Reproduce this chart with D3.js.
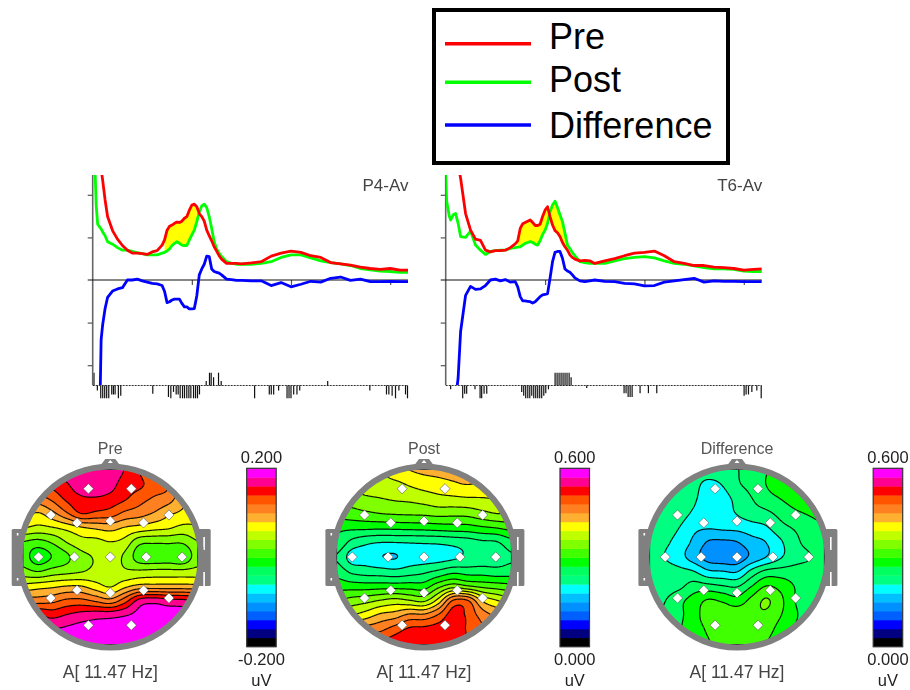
<!DOCTYPE html>
<html>
<head>
<meta charset="utf-8">
<style>
  html, body { margin: 0; padding: 0; background: #fff; }
  svg { display: block; filter: blur(0.35px); }
  text { font-family: "Liberation Sans", Arial, sans-serif; }
</style>
<script src="https://cdn.jsdelivr.net/npm/d3@7"></script>
</head>
<body>
<div id="chart"></div>
<script>
// ── Spectra (Hz against tick units of the y axis) ──
const freqHz = [0, 0.1, 0.25, 0.35, 0.5, 0.75, 0.85, 1, 1.25, 1.5,
    2, 2.5, 3, 3.5, 4, 4.5, 5, 5.5, 6, 6.5, 7,
    7.25, 7.5, 7.75, 8, 8.25, 8.5, 8.75, 9, 9.25, 9.5, 9.75, 10,
    10.25, 10.5, 10.75, 11, 11.25, 11.5, 11.75, 12, 12.25, 12.5, 12.75, 13,
    13.5, 14, 14.5, 15, 16, 17, 18, 19, 20, 21, 22, 23, 24, 25, 26, 27, 28, 29, 30, 31, 31.8];

const p4Pre = [4.2, 4, 3.5, 3.4, 3.2, 2.7, 2.6, 2.35, 1.88, 1.49,
    1.16, 0.96, 0.81, 0.70, 0.63, 0.63, 0.62, 0.60, 0.66, 0.69, 0.82,
    0.94, 1.17, 1.26, 1.29, 1.33, 1.36, 1.35, 1.38, 1.45, 1.49, 1.64, 1.76,
    1.78, 1.72, 1.56, 1.49, 1.38, 1.17, 1.04, 0.92, 0.78, 0.68, 0.57, 0.49,
    0.39, 0.39, 0.39, 0.38, 0.40, 0.43, 0.56, 0.63, 0.68, 0.65, 0.57, 0.53, 0.41, 0.38, 0.35, 0.30, 0.27, 0.25, 0.27, 0.23, 0.23];
const p4Post = [4, 3.5, 2.5, 1.76, 1.31, 1.23, 1.2, 1.13, 1.04, 0.90,
    0.84, 0.76, 0.70, 0.70, 0.67, 0.64, 0.62, 0.59, 0.59, 0.59, 0.63,
    0.65, 0.68, 0.73, 0.81, 0.86, 0.90, 0.86, 0.82, 0.81, 0.81, 0.94, 1.06,
    1.17, 1.37, 1.60, 1.74, 1.78, 1.70, 1.49, 1.21, 0.90, 0.73, 0.63, 0.55,
    0.43, 0.39, 0.37, 0.37, 0.37, 0.39, 0.43, 0.53, 0.59, 0.59, 0.52, 0.45, 0.41, 0.38, 0.34, 0.27, 0.24, 0.21, 0.20, 0.18, 0.18];
const p4Diff = [-5.2, -5, -5, -4.5, -3.5, -2.7, -1.4, -1.06, -0.67, -0.41,
    -0.26, -0.21, -0.18, 0, 0, 0.02, -0.02, -0.05, -0.08, -0.09, -0.13,
    -0.27, -0.53, -0.51, -0.47, -0.45, -0.45, -0.45, -0.55, -0.63, -0.63, -0.68, -0.68,
    -0.67, -0.37, 0.12, 0.26, 0.37, 0.56, 0.55, 0.26, 0.20, 0.18, 0.16, 0.12,
    0.02, 0.01, -0.01, -0.01, -0.02, -0.02, -0.13, -0.06, -0.16, -0.10, -0.03, -0.05, 0.04, 0.07, -0.01, 0.02, -0.04, -0.04, -0.03, -0.04, -0.04];

const t6Pre = [4, 4, 3.5, 3.4, 3.3, 3.1, 3, 2.9, 2.7, 2.39,
    1.56, 1.17, 0.96, 0.93, 0.70, 0.66, 0.69, 0.69, 0.70, 0.76, 0.85,
    0.92, 1.21, 1.32, 1.35, 1.38, 1.41, 1.35, 1.28, 1.28, 1.31, 1.49, 1.64,
    1.72, 1.49, 1.29, 1.16, 1.11, 1.02, 0.88, 0.78, 0.70, 0.59, 0.53, 0.49,
    0.45, 0.46, 0.45, 0.39, 0.45, 0.50, 0.57, 0.63, 0.65, 0.68, 0.57, 0.43, 0.39, 0.34, 0.34, 0.30, 0.29, 0.27, 0.23, 0.25, 0.26];
const t6Post = [2.5, 1.84, 1.65, 1.51, 1.41, 1.53, 1.54, 1.56, 1.33, 1.02,
    1.0, 1.15, 0.82, 0.70, 0.60, 0.67, 0.69, 0.70, 0.70, 0.74, 0.76,
    0.77, 0.78, 0.82, 0.86, 0.88, 0.90, 0.88, 0.84, 0.82, 0.92, 1.07, 1.17,
    1.33, 1.60, 1.76, 1.85, 1.70, 1.53, 1.37, 1.10, 0.82, 0.74, 0.64, 0.57,
    0.43, 0.41, 0.39, 0.39, 0.39, 0.45, 0.50, 0.53, 0.55, 0.52, 0.45, 0.39, 0.37, 0.33, 0.29, 0.26, 0.26, 0.25, 0.21, 0.20, 0.20];
const t6Diff = [-5, -5, -4.8, -4.5, -4, -3.5, -3, -2.8, -2.3, -1.21,
    -0.36, -0.15, -0.22, -0.21, -0.13, 0, 0.02, -0.02, 0.01, -0.05, -0.04,
    -0.16, -0.39, -0.49, -0.49, -0.50, -0.51, -0.54, -0.51, -0.45, -0.39, -0.35, -0.34,
    -0.32, 0.04, 0.43, 0.65, 0.67, 0.67, 0.51, 0.26, 0.21, 0.18, 0.12, 0.05,
    -0.02, -0.04, -0.02, 0, -0.03, -0.04, -0.08, -0.09, -0.14, -0.13, -0.05, -0.02, 0.01, 0.04, -0.05, -0.02, -0.03, -0.03, -0.04, -0.04, -0.04];

// Significance strip under each spectrum: [Hz, signed bar height as a share of full]
const p4Stats = [[0.13, 1], [0.47, -0.4], [0.81, -1], [1.01, -1], [1.21, -1], [1.41, -1], [1.62, -1], [1.92, -0.7], [2.09, -0.7], [2.26, -0.7],
    [2.59, -1], [2.83, -0.8], [6.06, -0.65], [7.64, -0.9], [7.88, -1], [8.15, -0.5], [8.42, -0.7], [8.62, -0.7], [8.82, -1], [9.06, -1], [9.26, -1],
    [9.49, -1], [9.7, -1], [9.9, -1], [10.17, -1], [10.37, -1], [10.57, -1], [10.77, -0.7], [11.45, 0.35], [11.78, 1], [11.95, 1], [12.19, 0.65],
    [12.69, 1], [12.96, 0.35], [16.33, -1], [17.81, -0.7], [18.01, -0.7], [18.25, -0.7], [18.75, -0.4], [19.6, -1], [19.8, -1], [20, -1],
    [20.27, -0.7], [20.6, -0.7], [20.88, -0.4], [23.7, 0.35], [27.95, -0.4], [29.63, -0.7], [29.87, -0.7], [30.2, -0.8], [30.54, -1], [30.88, -0.4], [31.55, -0.7], [31.75, -1]];
const t6Stats = [[0.5, -0.3], [1.71, -1], [1.91, -0.65], [2.11, -0.65], [2.95, -0.3], [3.46, -1], [3.62, -1], [3.86, -0.65], [4.13, -0.65],
    [7.65, -0.5], [7.85, -0.8], [8.05, -1], [8.26, -1], [8.46, -1], [8.66, -0.8], [8.86, -1], [9.06, -1], [9.26, -1], [9.46, -1], [9.66, -1], [9.87, -0.8], [10.07, -0.6], [10.34, -0.3],
    [11.01, 1], [11.21, 1], [11.41, 1], [11.61, 1], [11.81, 1], [12.01, 1], [12.21, 1], [12.42, 1], [12.62, 0.65],
    [14.19, -0.2], [17.95, -0.6], [18.15, -0.6], [18.36, -0.9], [18.56, -0.9], [18.76, -0.9], [19.56, -0.6], [20.4, -0.6], [21.24, -0.6],
    [30.03, -0.8], [30.23, -0.7], [30.47, -0.7], [30.81, -0.5], [31.31, -0.4], [31.75, -1]];

// ── Scalp maps: levels on the 20 step colour bar, 13 x 13 nodes across the head ──
const preLevels = [
    [16, 17, 18, 18.5, 18.7, 18.8, 18.7, 17.95, 17, 15.5, 14.8, 14, 13.5],
    [15.5, 16.5, 17.3, 17.9, 18.6, 18.8, 18.4, 17.5, 17.2, 16.5, 16, 14.2, 13.5],
    [15, 15.5, 16.2, 17.2, 17.8, 17.85, 17.6, 17.1, 16.4, 15.85, 15.4, 14.3, 13.5],
    [14.5, 13.9, 14.7, 15.85, 17, 16.75, 16.5, 15.75, 15.4, 14.9, 14.2, 13.75, 13.2],
    [13, 12.7, 12.9, 13.3, 13.85, 14.15, 14.35, 13.9, 13.6, 13.3, 13.1, 12.7, 12.9],
    [10.9, 10.6, 11.1, 12, 12.6, 12.65, 12.95, 12.6, 11.25, 11.1, 11.1, 11.1, 11.9],
    [10.5, 9.4, 10.05, 10.8, 11.7, 12.1, 12.5, 11.8, 10.5, 10.3, 10.4, 10.2, 11.5],
    [11.4, 11, 11.45, 11.7, 11.95, 12.3, 12.6, 12.2, 12.2, 12.3, 12.3, 12.3, 12.4],
    [13.3, 13.55, 13.75, 14, 14, 13.4, 12.9, 13.7, 14.3, 14.35, 14.35, 14.35, 14.3],
    [15.5, 15.5, 15.7, 16.2, 16.25, 15.8, 15.35, 16.55, 18.3, 18.6, 18.3, 18.2, 18],
    [17.5, 18, 17.65, 18.05, 18.4, 18.6, 18.65, 18.9, 19.3, 19.4, 19.5, 19.5, 19],
    [19, 19, 19, 19.2, 19.4, 19.4, 19.4, 19.5, 19.6, 19.6, 19.6, 19.5, 19],
    [19, 19.5, 19.5, 19.6, 19.8, 19.8, 19.8, 19.8, 19.8, 19.8, 19.7, 19.5, 19]
];
const postLevels = [
    [12.5, 12.6, 12.8, 13, 13.7, 14, 14.2, 14.3, 14.5, 15, 14.5, 14, 14],
    [12.3, 12.4, 12.5, 12.5, 12.7, 13.1, 13.4, 13.6, 13.8, 14, 13.8, 13.6, 13.5],
    [11.5, 11.5, 11.8, 11.95, 12.1, 12.2, 12.4, 12.65, 12.75, 12.85, 12.9, 13, 13],
    [10.5, 10.6, 10.8, 11, 11.1, 11.15, 11.2, 11.35, 11.3, 11.35, 11.7, 12, 12],
    [9.2, 9.2, 9.2, 9.15, 9.2, 9.25, 9.3, 9.4, 9.5, 9.55, 9.8, 10, 10.3],
    [8.8, 7.7, 7.2, 7, 7, 7.05, 7.1, 7.15, 7.3, 7.5, 7.8, 7.9, 8.6],
    [7.9, 6.6, 6.5, 6.05, 5.95, 6.4, 6.5, 6.6, 6.8, 7.2, 7.4, 7.5, 7.9],
    [8.6, 7.8, 7.55, 7.45, 7.3, 7.55, 7.8, 8.2, 8.7, 8.55, 8.55, 8.4, 8.5],
    [9.6, 9.5, 9.45, 9.5, 9.5, 9.5, 9.5, 10.65, 11.5, 11.05, 10.7, 10.5, 10.3],
    [11, 11.4, 11.65, 12.05, 12.35, 12.05, 11.8, 13.4, 16.05, 16.05, 13.9, 13.05, 12.5],
    [13, 13, 13.5, 14.2, 14.5, 15.2, 15.2, 16.1, 17.5, 16.8, 15.55, 14.8, 14.5],
    [14, 15, 15.5, 15.8, 16.5, 17.2, 17.3, 17.5, 17.6, 16.9, 16.2, 15.5, 15],
    [15, 16, 17, 17.2, 17.6, 17.8, 17.8, 17.8, 17.8, 17, 16.5, 16, 15.5]
];
const diffLevels = [
    [7.5, 7.5, 7.5, 7.5, 7.5, 7.6, 7.95, 8.4, 8.95, 9.3, 9.5, 9.5, 9.5],
    [7.5, 7.5, 7.5, 7.3, 6.75, 7.05, 7.85, 8.3, 9.0, 9.4, 9.6, 9.6, 9.6],
    [7.5, 7.5, 7.5, 7.15, 6.5, 6.6, 7.3, 7.95, 8.6, 9.0, 9.4, 9.6, 9.6],
    [7.5, 7.5, 7.4, 6.85, 6.4, 6.5, 7.05, 7.5, 7.75, 8.3, 8.8, 9.1, 9.4],
    [7.5, 7.5, 7.0, 6.25, 6.05, 6.15, 6.25, 6.55, 6.85, 7.65, 8.1, 8.5, 8.8],
    [7.5, 7.2, 6.6, 5.8, 4.9, 4.8, 4.95, 5.6, 6.0, 6.85, 7.75, 8.3, 8.6],
    [7.5, 7.0, 6.4, 5.5, 4.6, 4.4, 4.4, 5.25, 6.0, 6.9, 7.6, 7.95, 8.4],
    [7.5, 7.45, 7.3, 7.05, 6.2, 6.05, 5.95, 7.3, 8.25, 8.4, 8.4, 8.4, 8.4],
    [7.5, 7.55, 7.75, 8.4, 8.3, 8.05, 7.9, 8.95, 10.0, 9.65, 8.95, 8.4, 8.4],
    [7.6, 7.95, 8.7, 9.4, 10.1, 9.85, 9.4, 10.3, 11.1, 10.25, 9.0, 8.5, 8.4],
    [7.8, 8.15, 8.75, 9.6, 10.45, 10.7, 10.7, 10.8, 10.8, 10.05, 9.15, 8.5, 8.4],
    [8, 8.2, 8.9, 9.45, 10.15, 10.6, 10.6, 10.6, 10.4, 9.6, 8.9, 8.5, 8.4],
    [8.2, 8.3, 8.8, 9.2, 9.9, 10.3, 10.4, 10.3, 10, 9.3, 8.7, 8.5, 8.4]
];

// 10-20 sites in head coordinates (x right, y down, radius 1)
const sites = [[-0.25, -0.78], [0.24, -0.78], [-0.68, -0.48], [-0.38, -0.39], [0, -0.41], [0.38, -0.39], [0.67, -0.48],
    [-0.82, 0], [-0.41, 0], [0, 0], [0.41, 0], [0.82, 0],
    [-0.68, 0.47], [-0.38, 0.38], [0, 0.41], [0.38, 0.38], [0.67, 0.47], [-0.25, 0.78], [0.24, 0.78]];

// Colour bar, bottom step first
const barColors = ["#000000", "#000080", "#0000ff", "#0060ff", "#0090ff", "#00c0ff", "#00ffff", "#00ff80", "#00ff60", "#00ff00",
    "#40ff00", "#80ff00", "#c0ff00", "#ffff00", "#ffb030", "#ff8020", "#ff5500", "#ff0000", "#ff0090", "#ff00ff"];

const legendNames = ["Pre", "Post", "Difference"];
const legendColors = ["#ff0000", "#00ff00", "#0000ff"];

const width = 910;
const height = 690;
const svg = d3.select("#chart").append("svg")
    .attr("width", width)
    .attr("height", height);

// ── Legend ───────────────────────────────────────────────────────────────
const legend = svg.append("g");
legend.append("rect")
    .attr("x", 434).attr("y", 10)
    .attr("width", 294).attr("height", 153)
    .attr("fill", "#fff").attr("stroke", "#000").attr("stroke-width", 4);
const legendLineY = [43.7, 82.3, 125];
const legendTextY = [49.3, 91.7, 138.3];
legendNames.forEach((name, i) => {
    legend.append("line")
        .attr("x1", 445).attr("x2", 531)
        .attr("y1", legendLineY[i]).attr("y2", legendLineY[i])
        .attr("stroke", legendColors[i]).attr("stroke-width", 3.6);
    legend.append("text")
        .attr("x", 549).attr("y", legendTextY[i])
        .attr("font-size", 36).attr("fill", "#000")
        .text(name);
});

// ── Spectrum panels ──────────────────────────────────────────────────────
function drawSpectrum({ id, x0, x1, label, pre, post, diff, stats, fillFrom, fillTo }) {
    const x = d3.scaleLinear().domain([0, 31.8]).range([x0, x1]);
    const y = d3.scaleLinear().domain([-2.465, 2.465]).range([385, 175]);
    const strip = d3.scaleLinear().domain([-1, 1]).range([398.3, 372.7]);
    const g = svg.append("g");

    g.append("clipPath").attr("id", id)
        .append("rect")
        .attr("x", x0).attr("y", 175)
        .attr("width", x1 - x0 + 1).attr("height", 210);

    const rows = freqHz.map((hz, i) => ({ hz, pre: pre[i], post: post[i], diff: diff[i] }));

    // yellow where the curves differ significantly
    g.append("path")
        .datum(rows.filter(d => d.hz >= fillFrom && d.hz <= fillTo))
        .attr("fill", "#ffff00")
        .attr("d", d3.area().x(d => x(d.hz)).y0(d => y(d.post)).y1(d => y(d.pre)));

    // significance strip
    g.append("line")
        .attr("x1", x0).attr("x2", x1)
        .attr("y1", strip(0)).attr("y2", strip(0))
        .attr("stroke", "#333").attr("stroke-dasharray", "2,1");
    g.append("g").selectAll("line")
        .data(stats)
        .join("line")
        .attr("x1", d => x(d[0])).attr("x2", d => x(d[0]))
        .attr("y1", strip(0)).attr("y2", d => strip(d[1]))
        .attr("stroke", "#111").attr("stroke-width", 1.2);

    const yAxis = d3.axisLeft(y).tickValues([-2, -1, 1, 2]).tickSize(5).tickFormat("");
    const yAxisG = g.append("g").attr("transform", `translate(${x0},0)`).call(yAxis);
    yAxisG.select(".domain").attr("stroke", "#666").attr("stroke-width", 1.6).attr("d", `M0,175V385`);
    yAxisG.selectAll(".tick line").attr("stroke", "#555").attr("stroke-width", 1.2);

    const xAxis = d3.axisBottom(x).tickValues([10, 20, 30]).tickSize(5).tickFormat("");
    const xAxisG = g.append("g").attr("transform", `translate(0,${y(0)})`).call(xAxis);
    xAxisG.select(".domain").remove();
    xAxisG.selectAll(".tick line").attr("stroke", "#555").attr("stroke-width", 1.2);

    g.append("line")
        .attr("x1", x0 - 5).attr("x2", x1)
        .attr("y1", y(0)).attr("y2", y(0))
        .attr("stroke", "#111").attr("stroke-width", 1.1);

    const curves = g.append("g").attr("clip-path", `url(#${id})`);
    [["post", "#00ff00"], ["diff", "#0000ff"], ["pre", "#ff0000"]].forEach(([key, color]) => {
        curves.append("path")
            .datum(rows)
            .attr("fill", "none")
            .attr("stroke", color)
            .attr("stroke-width", 2.8)
            .attr("stroke-linejoin", "round")
            .attr("d", d3.line().x(d => x(d.hz)).y(d => y(d[key])));
    });

    g.append("text")
        .attr("x", x1 + 0.5).attr("y", 191)
        .attr("text-anchor", "end")
        .attr("font-size", 17).attr("fill", "#444")
        .text(label);
}

drawSpectrum({ id: "clip-p4", x0: 92.7, x1: 408, label: "P4-Av", pre: p4Pre, post: p4Post, diff: p4Diff, stats: p4Stats, fillFrom: 7.25, fillTo: 10.5 });
drawSpectrum({ id: "clip-t6", x0: 445.7, x1: 761.7, label: "T6-Av", pre: t6Pre, post: t6Post, diff: t6Diff, stats: t6Stats, fillFrom: 7.25, fillTo: 12.25 });

// ── Scalp maps ───────────────────────────────────────────────────────────
// Catmull-Rom upsampling of the coarse node table, so d3.contours gets round lines
function cubic(p0, p1, p2, p3, t) {
    return 0.5 * (2 * p1 + (p2 - p0) * t + (2 * p0 - 5 * p1 + 4 * p2 - p3) * t * t + (3 * p1 - p0 - 3 * p2 + p3) * t * t * t);
}

function upsample(table, n) {
    const last = table.length - 1;
    const at = i => Math.max(0, Math.min(last, i));
    const out = new Float64Array(n * n);
    for (let j = 0; j < n; j++) {
        const gy = j / (n - 1) * last;
        const r = Math.min(Math.floor(gy), last - 1);
        for (let i = 0; i < n; i++) {
            const gx = i / (n - 1) * last;
            const c = Math.min(Math.floor(gx), last - 1);
            const col = [-1, 0, 1, 2].map(k => cubic(
                table[at(r - 1)][at(c + k)], table[at(r)][at(c + k)],
                table[at(r + 1)][at(c + k)], table[at(r + 2)][at(c + k)], gy - r));
            out[j * n + i] = cubic(col[0], col[1], col[2], col[3], gx - c);
        }
    }
    return out;
}

function drawHead({ id, cx, barX, title, levels, top, bottom }) {
    const cy = 557;
    const R = 87.5;
    const n = 175;
    const g = svg.append("g");

    // ears and nose sit behind the ring
    [[-98.6, 13], [86.4, 14]].forEach(([dx, w]) => {
        g.append("rect")
            .attr("x", cx + dx).attr("y", cy - 28)
            .attr("width", w).attr("height", 57)
            .attr("rx", 1.5).attr("fill", "#808080");
    });
    [[-93.5, -24, 2.5], [-93.5, 21, 2.5], [93, -20, 13], [93, 15, 14]].forEach(([dx, dy, h]) => {
        g.append("rect")
            .attr("x", cx + dx).attr("y", cy + dy)
            .attr("width", 1.6).attr("height", h)
            .attr("fill", "#fff");
    });
    g.append("path")
        .attr("d", `M${cx - 11},${cy - 90}L${cx - 5},${cy - 98}L${cx + 5},${cy - 98}L${cx + 11},${cy - 90}Z`)
        .attr("fill", "#808080");
    g.append("path")
        .attr("d", `M${cx - 2.5},${cy - 94}L${cx},${cy - 97}L${cx + 2.5},${cy - 94}Z`)
        .attr("fill", "#fff");

    g.append("clipPath").attr("id", id)
        .append("circle").attr("cx", cx).attr("cy", cy).attr("r", R + 1);

    const field = upsample(levels, n);
    const contours = d3.contours().size([n, n]).thresholds(d3.range(0, 20))(field);
    const project = d3.geoIdentity().scale(2 * R / n).translate([cx - R, cy - R]);
    const path = d3.geoPath(project);

    const map = g.append("g").attr("clip-path", `url(#${id})`);
    map.append("circle").attr("cx", cx).attr("cy", cy).attr("r", R + 1)
        .attr("fill", barColors[Math.floor(d3.min(field))]);
    map.selectAll("path")
        .data(contours)
        .join("path")
        .attr("d", path)
        .attr("fill", d => barColors[d.value])
        .attr("stroke", "#000")
        .attr("stroke-opacity", d => d.coordinates.length ? 0.9 : 0)
        .attr("stroke-width", 1.2);

    g.append("circle")
        .attr("cx", cx).attr("cy", cy).attr("r", 90.5)
        .attr("fill", "none").attr("stroke", "#808080").attr("stroke-width", 6);

    const hx = d3.scaleLinear().domain([-1, 1]).range([cx - R, cx + R]);
    const hy = d3.scaleLinear().domain([-1, 1]).range([cy - R, cy + R]);
    g.append("g").selectAll("path")
        .data(sites)
        .join("path")
        .attr("d", d3.symbol(d3.symbolSquare, 52))
        .attr("transform", d => `translate(${hx(d[0])},${hy(d[1])}) rotate(45)`)
        .attr("fill", "#fff")
        .attr("stroke", "#444")
        .attr("stroke-width", 0.5);

    g.append("text")
        .attr("x", cx).attr("y", 454)
        .attr("text-anchor", "middle")
        .attr("font-size", 16).attr("fill", "#555")
        .text(title);
    g.append("text")
        .attr("x", cx).attr("y", 678)
        .attr("text-anchor", "middle")
        .attr("font-size", 17.5).attr("fill", "#444")
        .text("A[ 11.47 Hz]");

    // colour bar
    const band = d3.scaleBand().domain(d3.range(barColors.length)).range([646.7, 468.3]);
    const barW = 29.5;
    g.append("g").selectAll("rect")
        .data(barColors)
        .join("rect")
        .attr("x", barX)
        .attr("y", (d, i) => band(i))
        .attr("width", barW)
        .attr("height", band.bandwidth() + 0.4)
        .attr("fill", d => d);
    g.append("rect")
        .attr("x", barX).attr("y", 468.3)
        .attr("width", barW).attr("height", 178.4)
        .attr("fill", "none").attr("stroke", "#333").attr("stroke-width", 1.2);
    [[top, 463], [bottom, 665], ["uV", 686]].forEach(([txt, yy]) => {
        g.append("text")
            .attr("x", barX + barW / 2).attr("y", yy)
            .attr("text-anchor", "middle")
            .attr("font-size", 16.5).attr("fill", "#222")
            .text(txt);
    });
}

drawHead({ id: "clip-pre", cx: 110.3, barX: 246.7, title: "Pre", levels: preLevels, top: "0.200", bottom: "-0.200" });
drawHead({ id: "clip-post", cx: 424, barX: 560, title: "Post", levels: postLevels, top: "0.600", bottom: "0.000" });
drawHead({ id: "clip-diff", cx: 737, barX: 873.2, title: "Difference", levels: diffLevels, top: "0.600", bottom: "0.000" });
</script>
</body>
</html>
